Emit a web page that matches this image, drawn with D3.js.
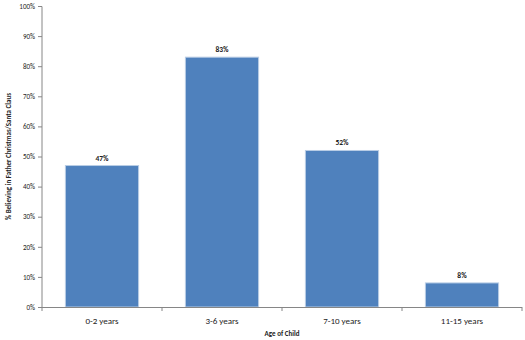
<!DOCTYPE html>
<html>
<head>
<meta charset="utf-8">
<script src="https://cdn.jsdelivr.net/npm/d3@7"></script>
<style>
  html, body { margin: 0; padding: 0; background: #fff; }
  svg { display: block; font-family: "Carlito", "Lato", "Liberation Sans", sans-serif; }
</style>
</head>
<body>
<svg id="chart" width="525" height="340"></svg>
<script>
// Share of children believing in Father Christmas, by age group
const categories = ["0-2 years", "3-6 years", "7-10 years", "11-15 years"];
const values = [47, 83, 52, 8];
const yTicks = [0, 10, 20, 30, 40, 50, 60, 70, 80, 90, 100];

const svg = d3.select("#chart");
const margin = { top: 6, right: 3, bottom: 33, left: 42 };
const width = 525 - margin.left - margin.right;
const height = 340 - margin.top - margin.bottom;

const g = svg.append("g").attr("transform", `translate(${margin.left},${margin.top})`);

const x = d3.scaleBand().domain(categories).range([0, width]).paddingInner(0.39).paddingOuter(0.195);
const y = d3.scaleLinear().domain([0, 100]).range([height, 0]);

const axisColor = "#868686";

// Bars
g.selectAll("rect.bar")
  .data(values)
  .join("rect")
  .attr("class", "bar")
  .attr("x", (d, i) => x(categories[i]))
  .attr("y", d => y(d))
  .attr("width", x.bandwidth())
  .attr("height", d => height - y(d))
  .attr("fill", "#4F81BD")
  .attr("stroke", "#B9CDE5")
  .attr("stroke-width", 1);

// Value labels
g.selectAll("text.val")
  .data(values)
  .join("text")
  .attr("class", "val")
  .attr("x", (d, i) => x(categories[i]) + x.bandwidth() / 2)
  .attr("y", d => y(d) - 5)
  .attr("text-anchor", "middle")
  .attr("font-size", 7.5)
  .attr("font-weight", "bold")
  .attr("fill", "#222")
  .text(d => d + "%");

// Y axis
const yAxis = g.append("g")
  .call(d3.axisLeft(y).tickValues(yTicks).tickSize(4).tickPadding(3).tickFormat(d => d + "%"));
yAxis.select(".domain").attr("stroke", axisColor).attr("d", `M0,${height + 0.5}V0.5`);
yAxis.selectAll(".tick line").attr("stroke", axisColor);
yAxis.selectAll(".tick text")
  .attr("font-size", 7)
  .attr("font-family", "Carlito, Lato, 'Liberation Sans', sans-serif")
  .attr("fill", "#222");

// X axis with ticks at category boundaries
const xAxis = g.append("g").attr("transform", `translate(0,${height})`);
xAxis.append("line")
  .attr("x1", 0).attr("x2", width)
  .attr("y1", 0.5).attr("y2", 0.5)
  .attr("stroke", axisColor);
const step = x.step();
const boundaries = d3.range(categories.length + 1).map(i => x(categories[0]) - x.paddingOuter() * step + i * step);
xAxis.selectAll("line.bt")
  .data(boundaries)
  .join("line")
  .attr("class", "bt")
  .attr("x1", d => d).attr("x2", d => d)
  .attr("y1", 0).attr("y2", 4)
  .attr("stroke", axisColor);
xAxis.selectAll("text.cat")
  .data(categories)
  .join("text")
  .attr("class", "cat")
  .attr("x", d => x(d) + x.bandwidth() / 2)
  .attr("y", 17)
  .attr("text-anchor", "middle")
  .attr("font-size", 9)
  .attr("fill", "#222")
  .text(d => d);

// Axis titles
svg.append("text")
  .attr("x", margin.left + width / 2)
  .attr("y", 336)
  .attr("text-anchor", "middle")
  .attr("font-size", 7)
  .attr("font-weight", "bold")
  .attr("fill", "#222")
  .text("Age of Child");

svg.append("text")
  .attr("transform", `translate(11,${margin.top + height / 2}) rotate(-90)`)
  .attr("text-anchor", "middle")
  .attr("font-size", 7)
  .attr("font-weight", "bold")
  .attr("fill", "#222")
  .text("% Believing in Father Christmas/Santa Claus");
</script>
</body>
</html>
